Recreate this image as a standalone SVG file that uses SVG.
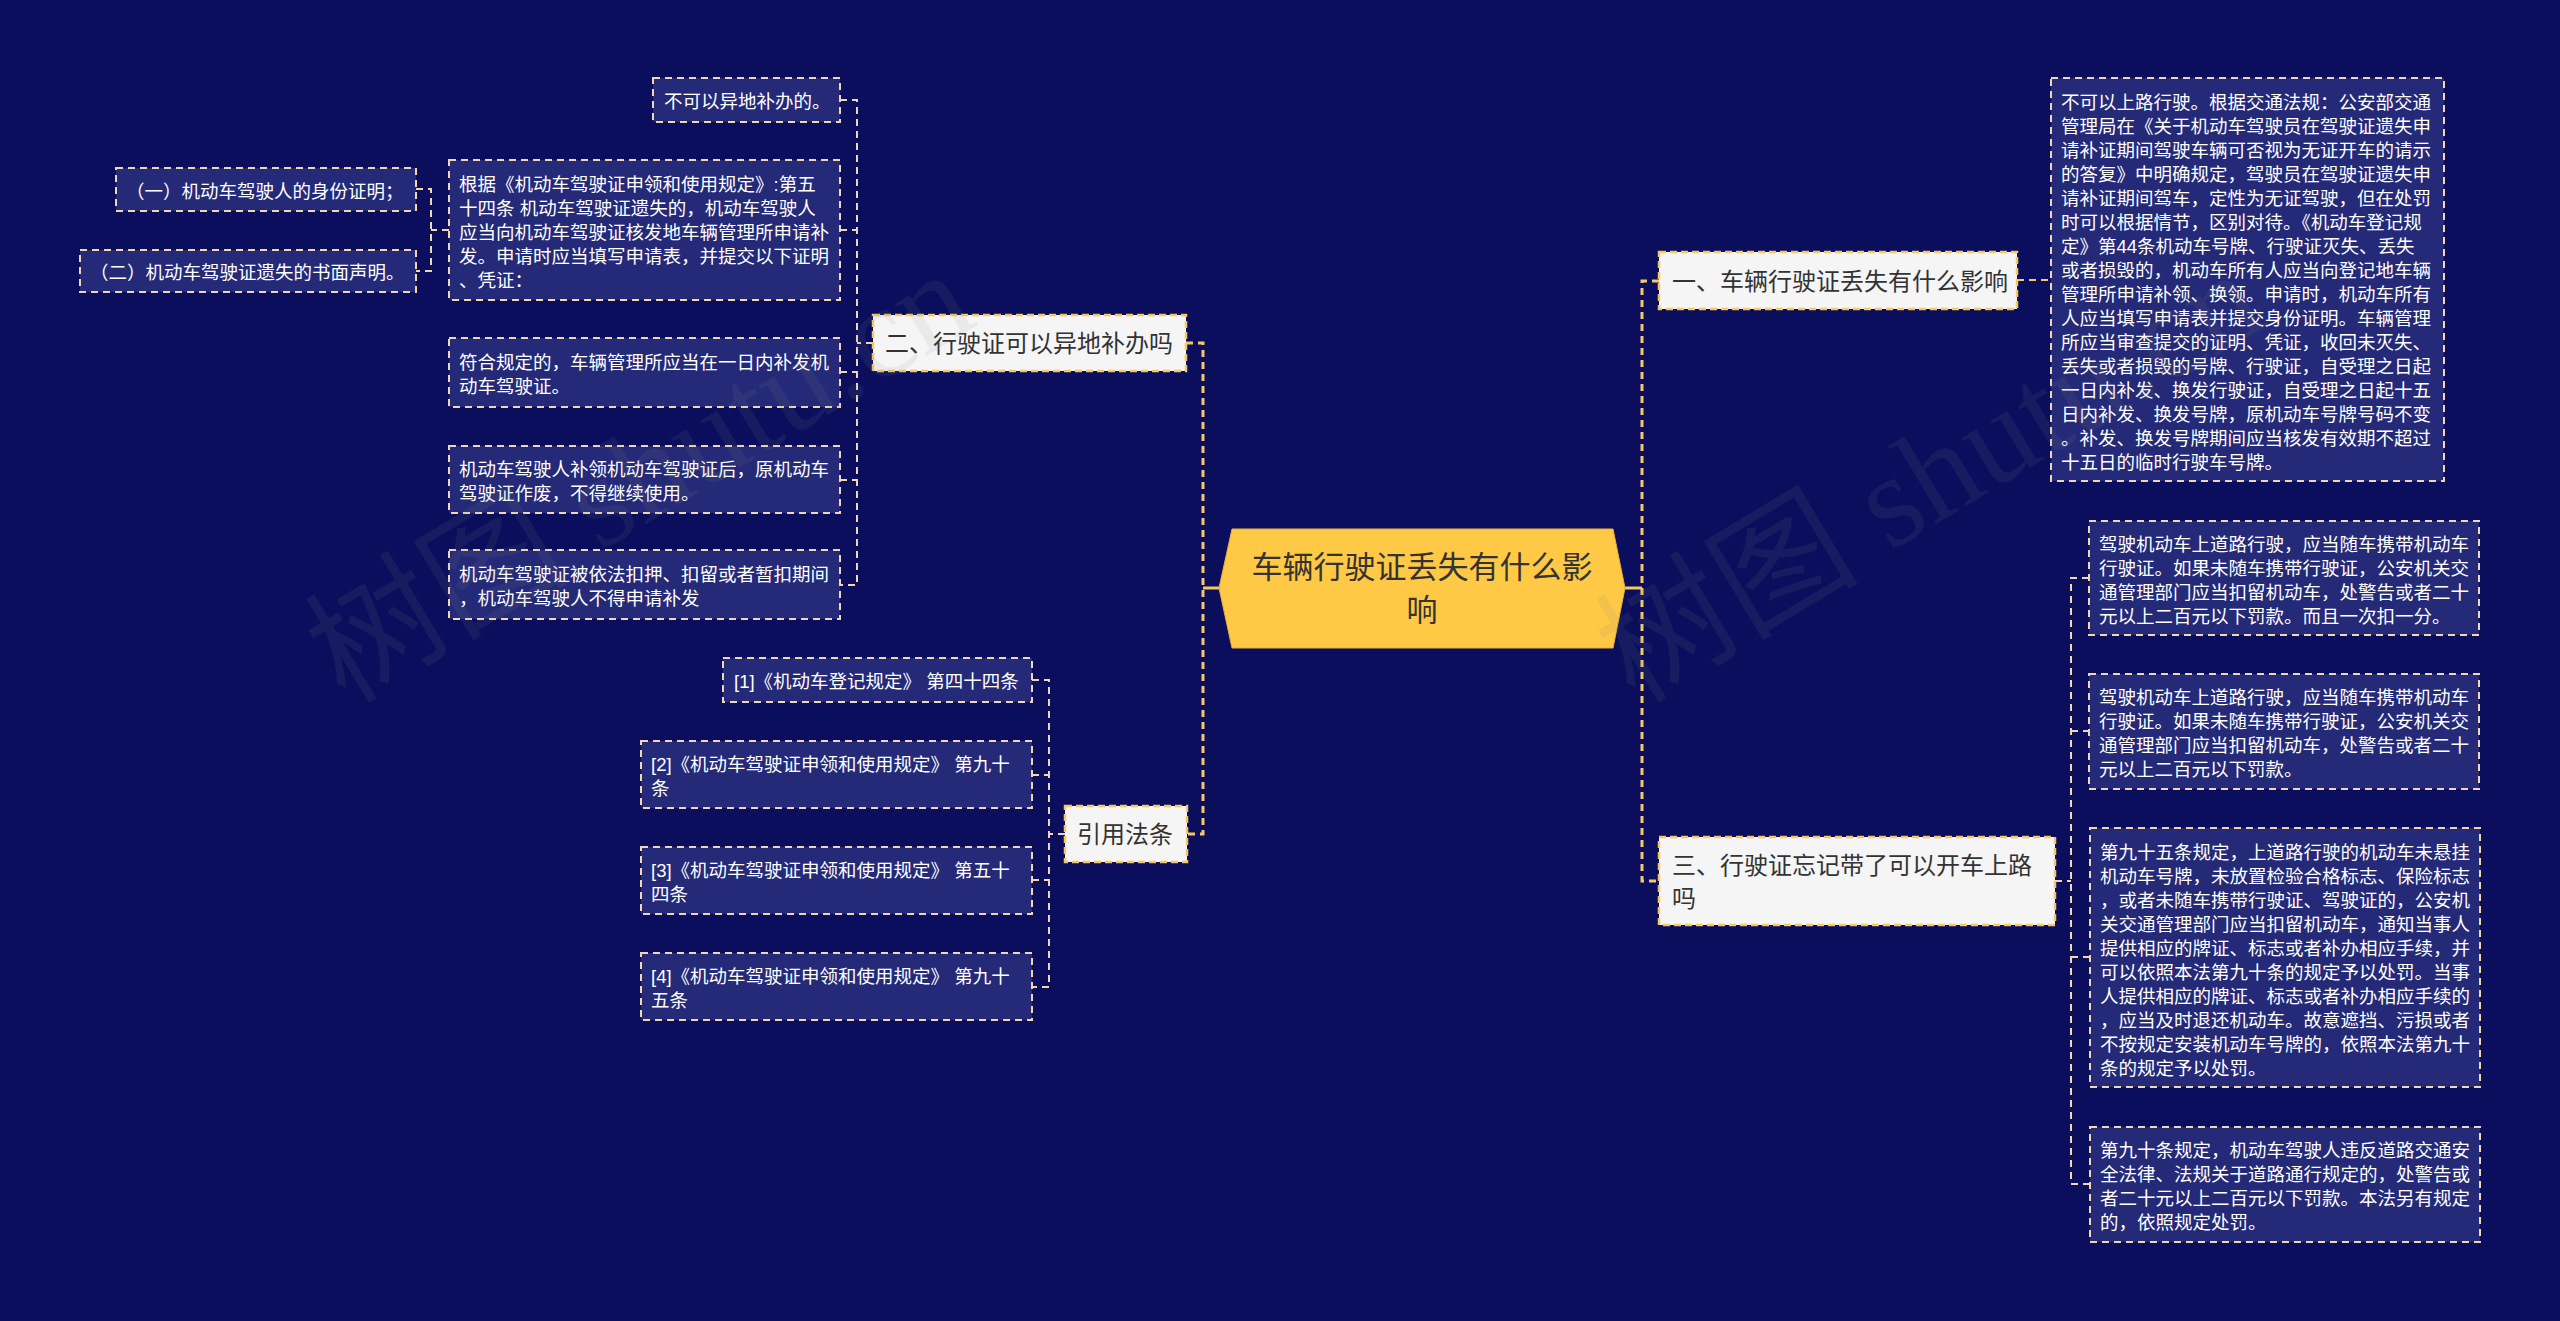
<svg xmlns="http://www.w3.org/2000/svg" width="2560" height="1321" viewBox="0 0 2560 1321">
<style>
text{font-family:"Liberation Sans","Noto Sans CJK SC",sans-serif;dominant-baseline:central}
.leaf rect{fill:#252a78;stroke:#f1d6b0;stroke-width:2;stroke-dasharray:7 5}
.leaf text{fill:#ffffff;font-size:18.5px}
.branch rect{fill:#f5f5f5;stroke:#f5c765;stroke-width:2.5;stroke-dasharray:7 4}
.branch text{fill:#333333;font-size:24px}
.root polygon{fill:#ffc845;stroke:#e8b23a;stroke-width:1}
.root text{fill:#333333;font-size:31px;text-anchor:middle}
.trunk{fill:none;stroke:#f5c765;stroke-width:3;stroke-dasharray:7 5}
.sub{fill:none;stroke:#f1d6b0;stroke-width:2;stroke-dasharray:7 5}
.wm text{font-family:"Liberation Serif","Noto Sans CJK SC",serif;font-size:132px;fill:#8a8a8a;opacity:0.10;dominant-baseline:alphabetic}
</style>
<rect x="0" y="0" width="2560" height="1321" fill="#0a0e5c"/>

<g id="connectors">
  <path class="trunk" d="M1219 588 H1203" style="stroke-dasharray:none"/>
  <path class="trunk" d="M1625 588 H1642" style="stroke-dasharray:none"/>
  <path class="trunk" d="M1186 343 H1203 V834 H1186"/>
  <path class="trunk" d="M1659 281 H1642 V881 H1659"/>
  <path class="sub" d="M873 343 H857"/>
  <path class="sub" d="M840 100 H857 V585 H840"/>
  <path class="sub" d="M840 230 H857"/>
  <path class="sub" d="M840 372 H857"/>
  <path class="sub" d="M840 480 H857"/>
  <path class="sub" d="M449 230 H431"/>
  <path class="sub" d="M416 189 H431 V271 H416"/>
  <path class="sub" d="M1065 834 H1049"/>
  <path class="sub" d="M1032 680 H1049 V987 H1032"/>
  <path class="sub" d="M1032 775 H1049"/>
  <path class="sub" d="M1032 880 H1049"/>
  <path class="sub" d="M2017 280 H2051" style="stroke:#f5c765"/>
  <path class="sub" d="M2055 881 H2071"/>
  <path class="sub" d="M2089 578 H2071 V1184 H2090"/>
  <path class="sub" d="M2071 731 H2089"/>
  <path class="sub" d="M2071 957 H2090"/>
</g>

<g id="root" class="root">
  <polygon points="1219,588 1232,529 1613,529 1625,588 1613,648 1232,648"/>
  <text x="1422" y="567">车辆行驶证丢失有什么影</text>
  <text x="1422" y="610">响</text>
</g>

<g id="b2" class="branch">
  <rect x="873" y="315" width="313" height="56"/>
  <text x="885" y="343">二、行驶证可以异地补办吗</text>
</g>
<g id="b4" class="branch">
  <rect x="1065" y="806" width="122" height="56"/>
  <text x="1077" y="834">引用法条</text>
</g>
<g id="b1" class="branch">
  <rect x="1659" y="252" width="358" height="57"/>
  <text x="1672" y="281">一、车辆行驶证丢失有什么影响</text>
</g>
<g id="b3" class="branch">
  <rect x="1659" y="837" width="396" height="88"/>
  <text x="1672" y="865">三、行驶证忘记带了可以开车上路</text>
  <text x="1672" y="898">吗</text>
</g>

<g id="n1" class="leaf">
  <rect x="653" y="78" width="187" height="44"/>
  <text x="664" y="101">不可以异地补办的。</text>
</g>
<g id="n2" class="leaf">
  <rect x="449" y="160" width="391" height="140"/>
  <text x="459" y="184">根据《机动车驾驶证申领和使用规定》:第五</text>
  <text x="459" y="208">十四条 机动车驾驶证遗失的，机动车驾驶人</text>
  <text x="459" y="232">应当向机动车驾驶证核发地车辆管理所申请补</text>
  <text x="459" y="256">发。申请时应当填写申请表，并提交以下证明</text>
  <text x="459" y="280">、凭证：</text>
</g>
<g id="n3" class="leaf">
  <rect x="116" y="168" width="300" height="43"/>
  <text x="126" y="191">（一）机动车驾驶人的身份证明；</text>
</g>
<g id="n4" class="leaf">
  <rect x="80" y="250" width="336" height="42"/>
  <text x="90" y="272">（二）机动车驾驶证遗失的书面声明。</text>
</g>
<g id="n5" class="leaf">
  <rect x="449" y="338" width="391" height="69"/>
  <text x="459" y="362">符合规定的，车辆管理所应当在一日内补发机</text>
  <text x="459" y="386">动车驾驶证。</text>
</g>
<g id="n6" class="leaf">
  <rect x="449" y="446" width="391" height="67"/>
  <text x="459" y="469">机动车驾驶人补领机动车驾驶证后，原机动车</text>
  <text x="459" y="493">驾驶证作废，不得继续使用。</text>
</g>
<g id="n7" class="leaf">
  <rect x="449" y="550" width="391" height="69"/>
  <text x="459" y="574">机动车驾驶证被依法扣押、扣留或者暂扣期间</text>
  <text x="459" y="598">，机动车驾驶人不得申请补发</text>
</g>

<g id="r1" class="leaf">
  <rect x="723" y="658" width="309" height="44"/>
  <text x="734" y="681">[1]《机动车登记规定》 第四十四条</text>
</g>
<g id="r2" class="leaf">
  <rect x="641" y="741" width="391" height="67"/>
  <text x="651" y="764">[2]《机动车驾驶证申领和使用规定》 第九十</text>
  <text x="651" y="788">条</text>
</g>
<g id="r3" class="leaf">
  <rect x="641" y="847" width="391" height="67"/>
  <text x="651" y="870">[3]《机动车驾驶证申领和使用规定》 第五十</text>
  <text x="651" y="894">四条</text>
</g>
<g id="r4" class="leaf">
  <rect x="641" y="953" width="391" height="67"/>
  <text x="651" y="976">[4]《机动车驾驶证申领和使用规定》 第九十</text>
  <text x="651" y="1000">五条</text>
</g>

<g id="m1" class="leaf">
  <rect x="2051" y="78" width="393" height="403"/>
  <text x="2061" y="102">不可以上路行驶。根据交通法规：公安部交通</text>
  <text x="2061" y="126">管理局在《关于机动车驾驶员在驾驶证遗失申</text>
  <text x="2061" y="150">请补证期间驾驶车辆可否视为无证开车的请示</text>
  <text x="2061" y="174">的答复》中明确规定，驾驶员在驾驶证遗失申</text>
  <text x="2061" y="198">请补证期间驾车，定性为无证驾驶，但在处罚</text>
  <text x="2061" y="222">时可以根据情节，区别对待。《机动车登记规</text>
  <text x="2061" y="246">定》第44条机动车号牌、行驶证灭失、丢失</text>
  <text x="2061" y="270">或者损毁的，机动车所有人应当向登记地车辆</text>
  <text x="2061" y="294">管理所申请补领、换领。申请时，机动车所有</text>
  <text x="2061" y="318">人应当填写申请表并提交身份证明。车辆管理</text>
  <text x="2061" y="342">所应当审查提交的证明、凭证，收回未灭失、</text>
  <text x="2061" y="366">丢失或者损毁的号牌、行驶证，自受理之日起</text>
  <text x="2061" y="390">一日内补发、换发行驶证，自受理之日起十五</text>
  <text x="2061" y="414">日内补发、换发号牌，原机动车号牌号码不变</text>
  <text x="2061" y="438">。补发、换发号牌期间应当核发有效期不超过</text>
  <text x="2061" y="462">十五日的临时行驶车号牌。</text>
</g>

<g id="m2" class="leaf">
  <rect x="2089" y="521" width="390" height="114"/>
  <text x="2099" y="544">驾驶机动车上道路行驶，应当随车携带机动车</text>
  <text x="2099" y="568">行驶证。如果未随车携带行驶证，公安机关交</text>
  <text x="2099" y="592">通管理部门应当扣留机动车，处警告或者二十</text>
  <text x="2099" y="616">元以上二百元以下罚款。而且一次扣一分。</text>
</g>
<g id="m3" class="leaf">
  <rect x="2089" y="674" width="390" height="115"/>
  <text x="2099" y="697">驾驶机动车上道路行驶，应当随车携带机动车</text>
  <text x="2099" y="721">行驶证。如果未随车携带行驶证，公安机关交</text>
  <text x="2099" y="745">通管理部门应当扣留机动车，处警告或者二十</text>
  <text x="2099" y="769">元以上二百元以下罚款。</text>
</g>
<g id="m4" class="leaf">
  <rect x="2090" y="828" width="390" height="259"/>
  <text x="2100" y="852">第九十五条规定，上道路行驶的机动车未悬挂</text>
  <text x="2100" y="876">机动车号牌，未放置检验合格标志、保险标志</text>
  <text x="2100" y="900">，或者未随车携带行驶证、驾驶证的，公安机</text>
  <text x="2100" y="924">关交通管理部门应当扣留机动车，通知当事人</text>
  <text x="2100" y="948">提供相应的牌证、标志或者补办相应手续，并</text>
  <text x="2100" y="972">可以依照本法第九十条的规定予以处罚。当事</text>
  <text x="2100" y="996">人提供相应的牌证、标志或者补办相应手续的</text>
  <text x="2100" y="1020">，应当及时退还机动车。故意遮挡、污损或者</text>
  <text x="2100" y="1044">不按规定安装机动车号牌的，依照本法第九十</text>
  <text x="2100" y="1068">条的规定予以处罚。</text>
</g>
<g id="m5" class="leaf">
  <rect x="2090" y="1127" width="390" height="115"/>
  <text x="2100" y="1150">第九十条规定，机动车驾驶人违反道路交通安</text>
  <text x="2100" y="1174">全法律、法规关于道路通行规定的，处警告或</text>
  <text x="2100" y="1198">者二十元以上二百元以下罚款。本法另有规定</text>
  <text x="2100" y="1222">的，依照规定处罚。</text>
</g>

<g id="watermark" class="wm">
  <text x="345" y="705" transform="rotate(-31 345 705)">树图 shutu.cn</text>
  <text x="1635" y="705" transform="rotate(-31 1635 705)">树图 shutu.cn</text>
</g>
</svg>
